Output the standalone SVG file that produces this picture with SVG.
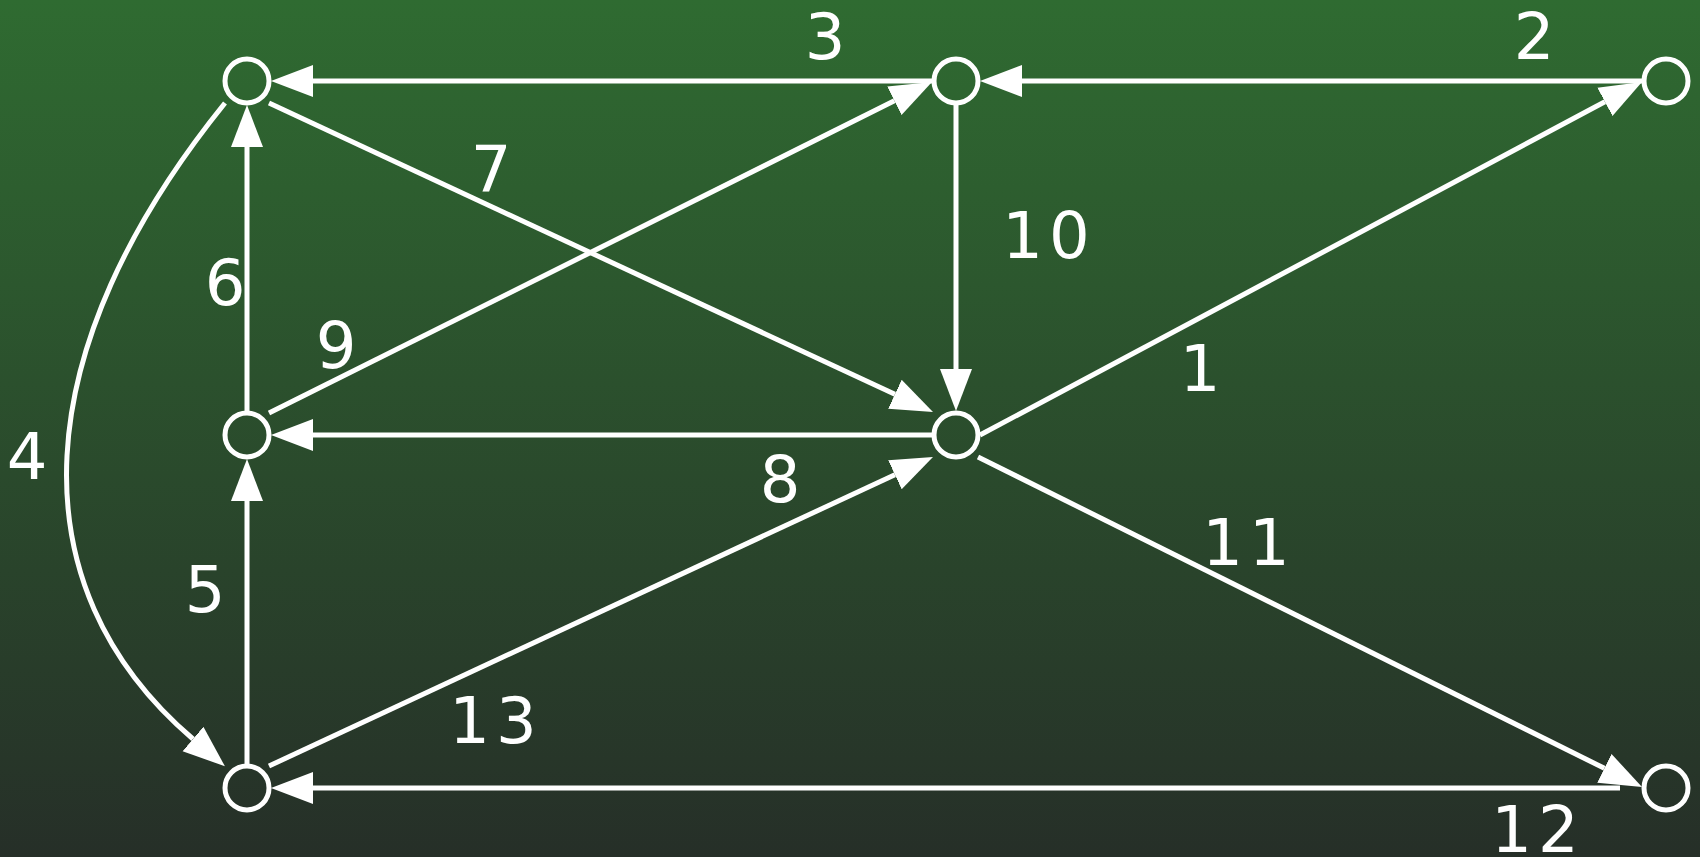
<svg xmlns="http://www.w3.org/2000/svg" width="1700" height="857" viewBox="0 0 1700 857">
  <defs>
    <linearGradient id="bg" x1="0" y1="0" x2="0" y2="857" gradientUnits="userSpaceOnUse">
      <stop offset="0" stop-color="#2f6b31"/>
      <stop offset="1" stop-color="#262f28"/>
    </linearGradient>
    <marker id="arrow" viewBox="0 -17 42 34" refX="0" refY="0" markerWidth="42" markerHeight="34" markerUnits="userSpaceOnUse" orient="auto">
      <path d="M0,-16 L42,0 L0,16 Z" fill="#fff"/>
    </marker>
    <style>
      .node { fill: none; stroke: #fff; stroke-width: 5; }
      .edge { fill: none; stroke: #fff; stroke-width: 5; stroke-linecap: butt; marker-end: url(#arrow); }
      .lbl { fill: #fff; font-family: "DejaVu Sans", "Liberation Sans", sans-serif; font-size: 64px; text-anchor: middle; letter-spacing: 6px; }
    </style>
  </defs>
  <rect x="0" y="0" width="1700" height="857" fill="url(#bg)"/>

  <g id="connectors">
    <g id="edge-1"><path class="edge" d="M980,435 L1604.9,101.8"/><text class="lbl" x="1203" y="391">1</text></g>
    <g id="edge-2"><path class="edge" d="M1642,81 L1022,81"/><text class="lbl" x="1537" y="59">2</text></g>
    <g id="edge-3"><path class="edge" d="M932,81 L313,81"/><text class="lbl" x="828" y="59">3</text></g>
    <g id="edge-4"><path class="edge" d="M225,103 C26.5,348.7 12.9,585 193,739"/><text class="lbl" x="30" y="479">4</text></g>
    <g id="edge-5"><path class="edge" d="M247,764 L247,501"/><text class="lbl" x="208" y="612">5</text></g>
    <g id="edge-6"><path class="edge" d="M247,411 L247,147"/><text class="lbl" x="228" y="305">6</text></g>
    <g id="edge-7"><path class="edge" d="M269,103 L894.9,394.3"/><text class="lbl" x="494" y="192">7</text></g>
    <g id="edge-8"><path class="edge" d="M932,435 L313,435"/><text class="lbl" x="783" y="502">8</text></g>
    <g id="edge-9"><path class="edge" d="M269,413 L894.4,100.8"/><text class="lbl" x="339" y="368">9</text></g>
    <g id="edge-10"><path class="edge" d="M956,105 L956,369"/><text class="lbl" x="1049" y="258">10</text></g>
    <g id="edge-11"><path class="edge" d="M978,457 L1604.4,768.3"/><text class="lbl" x="1249" y="565">11</text></g>
    <g id="edge-12"><path class="edge" d="M1620,788 L313,788"/><text class="lbl" x="1538" y="852">12</text></g>
    <g id="edge-13"><path class="edge" d="M269,766 L894.9,474.7"/><text class="lbl" x="496" y="743">13</text></g>
  </g>

  <g id="node-a"><circle class="node" cx="247" cy="81" r="22"/></g>
  <g id="node-b"><circle class="node" cx="956" cy="81" r="22"/></g>
  <g id="node-c"><circle class="node" cx="1666" cy="81" r="22"/></g>
  <g id="node-d"><circle class="node" cx="247" cy="435" r="22"/></g>
  <g id="node-e"><circle class="node" cx="956" cy="435" r="22"/></g>
  <g id="node-f"><circle class="node" cx="247" cy="788" r="22"/></g>
  <g id="node-g"><circle class="node" cx="1666" cy="788" r="22"/></g>
</svg>
